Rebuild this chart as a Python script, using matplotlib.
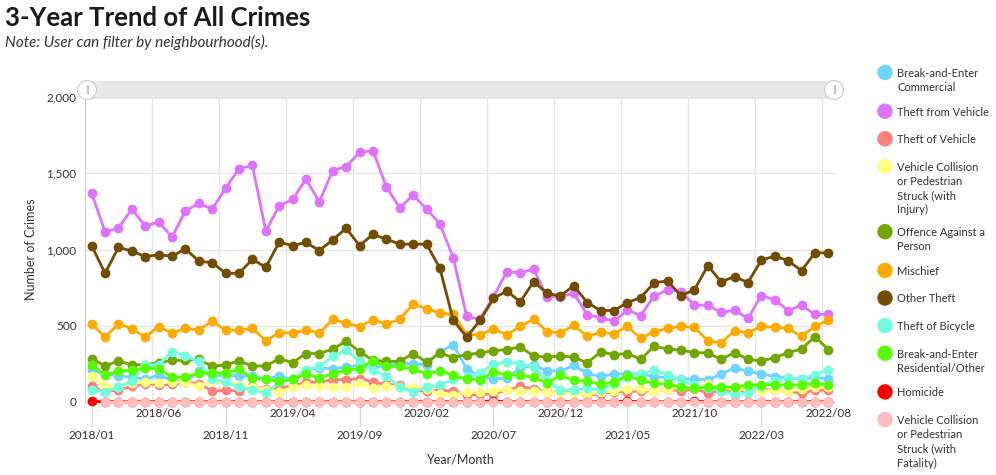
import numpy as np
import matplotlib
matplotlib.use('Agg')
import matplotlib.pyplot as plt
from matplotlib.patches import FancyBboxPatch, Circle

plt.rcParams['font.family'] = ['Lato', 'DejaVu Sans']

# months 2018/01 .. 2022/08
months = [f"{y}/{m:02d}" for y in range(2018, 2023) for m in range(1, 13)][:56]

be_commercial = [211, 185, 172, 163, 148, 176, 142, 131, 203, 174, 174, 172, 170, 152, 170, 146,
                 209, 224, 218, 229, 240, 224, 240, 255, 250, 245, 330, 375, 218, 168, 152, 157,
                 222, 240, 204, 202, 240, 187, 168, 184, 184, 184, 167, 158, 151, 151, 144, 184,
                 224, 202, 184, 167, 158, 151, 162, 150]
theft_from_vehicle = [1368, 1115, 1141, 1264, 1154, 1181, 1082, 1253, 1302, 1266, 1403, 1529, 1551,
                      1121, 1286, 1328, 1460, 1313, 1518, 1544, 1637, 1648, 1412, 1273, 1357, 1266,
                      1168, 945, 561, 543, 691, 854, 848, 870, 691, 691, 713, 572, 554, 528, 604, 567,
                      696, 735, 724, 635, 635, 587, 602, 548, 698, 670, 600, 635, 574, 574]
theft_of_vehicle = [102, 65, 81, 102, 120, 113, 115, 131, 120, 72, 76, 72, 102, 85, 98, 102, 131, 131,
                    146, 146, 154, 131, 115, 109, 76, 72, 76, 72, 44, 50, 54, 76, 102, 87, 65, 65, 65,
                    44, 54, 67, 67, 73, 73, 84, 73, 84, 62, 73, 78, 73, 84, 78, 73, 56, 78, 78]
collision_injury = [168, 102, 98, 124, 131, 124, 131, 131, 102, 135, 131, 109, 98, 81, 65, 98, 109,
                    102, 98, 100, 122, 94, 105, 98, 98, 87, 54, 44, 65, 65, 72, 81, 72, 72, 65, 59, 59,
                    50, 65, 73, 84, 84, 73, 84, 96, 89, 118, 96, 84, 84, 73, 78, 73, 84, 96, 96]
offence_person = [284, 236, 269, 244, 244, 258, 273, 273, 280, 233, 244, 269, 236, 236, 284, 258, 318,
                  318, 347, 400, 330, 273, 267, 267, 318, 262, 322, 291, 311, 322, 336, 344, 362, 300,
                  296, 300, 296, 256, 329, 311, 318, 280, 367, 347, 340, 324, 322, 280, 324, 280, 269,
                  291, 324, 347, 429, 344]
mischief = [513, 425, 513, 481, 425, 495, 451, 484, 471, 530, 471, 471, 484, 403, 453, 453, 471, 453,
            543, 516, 495, 539, 511, 543, 641, 613, 583, 576, 441, 441, 478, 441, 496, 543, 461, 454,
            502, 430, 457, 448, 496, 417, 461, 483, 496, 489, 402, 387, 467, 454, 496, 489, 483, 430,
            496, 535]
other_theft = [1024, 844, 1015, 989, 954, 965, 956, 1004, 923, 914, 844, 844, 936, 883, 1048, 1026,
               1046, 993, 1064, 1139, 1026, 1099, 1068, 1035, 1035, 1035, 877, 535, 426, 535, 680, 728,
               657, 789, 713, 696, 763, 652, 600, 600, 652, 685, 783, 793, 698, 735, 893, 789, 822,
               783, 930, 957, 926, 861, 978, 978]
theft_bicycle = [80, 67, 96, 140, 244, 244, 331, 300, 266, 150, 129, 96, 80, 58, 129, 151, 211, 233,
                 300, 340, 269, 207, 173, 96, 67, 96, 110, 150, 165, 192, 246, 262, 250, 231, 146, 77,
                 80, 90, 78, 118, 167, 184, 207, 180, 144, 110, 89, 73, 47, 62, 107, 140, 158, 151,
                 180, 211]
be_residential = [240, 176, 203, 207, 222, 218, 163, 163, 190, 190, 190, 214, 159, 148, 135, 148, 185,
                  157, 185, 213, 216, 272, 233, 233, 216, 185, 203, 174, 152, 146, 196, 179, 174, 163,
                  124, 174, 142, 135, 115, 133, 173, 144, 122, 118, 96, 89, 96, 100, 96, 111, 113, 113,
                  111, 113, 122, 113]
homicide = [5, 1, 2, 1, 1, 2, 1, 1, 2, 1, 1, 2, 1, 1, 1, 2, 1, 1, 2, 1, 1, 2, 1, 1, 2, 1, 1, 2, 1, 1,
            8, 1, 2, 1, 1, 2, 1, 1, 2, 1, 6, 1, 2, 1, 1, 5, 1, 2, 1, 1, 2, 1, 1, 2, 1, 1]
collision_fatal = [np.nan] + [0] * 55

series = [
    ("Break-and-Enter\nCommercial", be_commercial, "#6dd5ff"),
    ("Theft from Vehicle", theft_from_vehicle, "#df73ff"),
    ("Theft of Vehicle", theft_of_vehicle, "#ff7f7f"),
    ("Vehicle Collision\nor Pedestrian\nStruck (with\nInjury)", collision_injury, "#ffff80"),
    ("Offence Against a\nPerson", offence_person, "#73a500"),
    ("Mischief", mischief, "#ffaa00"),
    ("Other Theft", other_theft, "#734c00"),
    ("Theft of Bicycle", theft_bicycle, "#73ffdf"),
    ("Break-and-Enter\nResidential/Other", be_residential, "#55ff00"),
    ("Homicide", homicide, "#ff0000"),
    ("Vehicle Collision\nor Pedestrian\nStruck (with\nFatality)", collision_fatal, "#ffbebe"),
]

W, H = 996, 475
fig = plt.figure(figsize=(W / 100, H / 100), dpi=100)
ax = fig.add_axes([85 / W, 1 - 402 / H, (835 - 85) / W, (402 - 97) / H])

x = np.arange(len(months))
for i, (name, vals, col) in enumerate(series):
    ax.plot(x, vals, '-o', color=col, lw=2, ms=6, clip_on=False, zorder=3 + i)

ax.set_xlim(-0.5, 55.5)
ax.set_ylim(0, 2000)

# grid
ax.set_yticks([0, 500, 1000, 1500, 2000])
ax.set_yticklabels(['0', '500', '1,000', '1,500', '2,000'])
ax.yaxis.grid(True, color='#e6e6e6', lw=0.9)
for gx in np.arange(4.5, 55, 5):
    ax.axvline(gx, color='#e6e6e6', lw=0.9, zorder=0)
ax.set_axisbelow(True)

# x ticks: two rows
ax.set_xticks(x[::10])
ax.set_xticklabels([months[i] for i in x[::10]])
ax.set_xticks(x[5::10], minor=True)
ax.set_xticklabels([months[i] for i in x[5::10]], minor=True)
ax.tick_params(axis='x', which='major', length=18, width=0.9, color='#d9d9d9',
               pad=2, labelsize=8.5, labelcolor='#333333')
ax.tick_params(axis='x', which='minor', length=0, pad=4, labelsize=8.5, labelcolor='#333333')
ax.tick_params(axis='y', length=0, pad=6, labelsize=8.5, labelcolor='#333333')

for s in ['top', 'right']:
    ax.spines[s].set_visible(False)
ax.spines['left'].set_color('#cccccc')
ax.spines['bottom'].set_color('#cccccc')

ax.set_ylabel('Number of Crimes', fontsize=9, color='#333333', labelpad=7)
ax.set_xlabel('Year/Month', fontsize=9, color='#333333', labelpad=9)

# title and note
fig.text(5 / W, 1 - 18 / H, '3-Year Trend of All Crimes', fontsize=18.5, fontweight='bold',
         color='#1a1a1a', va='center', ha='left')
fig.text(5 / W, 1 - 42 / H, 'Note: User can filter by neighbourhood(s).', fontsize=11,
         style='italic', color='#333333', va='center', ha='left')

# zoom slider at top
inch = fig.dpi_scale_trans
def px(xp, yp):
    return xp / 100, (H - yp) / 100

sx0, sy0 = px(84, 98)
fig.add_artist(FancyBboxPatch((sx0, sy0), (838 - 84) / 100, 16 / 100,
                              boxstyle='round,pad=0,rounding_size=0.05',
                              transform=inch, fc='#e8e8e8', ec='#dddddd', lw=0.8))
for hx in [87, 834]:
    cx, cy = px(hx, 90)
    fig.add_artist(Circle((cx, cy), 0.095, transform=inch, fc='white', ec='#cccccc', lw=0.8))
    fig.text(hx / W, 1 - 90 / H, '||', fontsize=7, color='#999999', ha='center', va='center')

# legend
ly = 75
line_h = 13.3
for name, vals, col in series:
    cx, cy = px(885, ly - 2.5)
    fig.add_artist(Circle((cx, cy), 0.077, transform=inch, fc=col, ec='none'))
    fig.text(897 / W, 1 - (ly - 7) / H, name, fontsize=8, color='#333333',
             ha='left', va='top', linespacing=1.35)
    nlines = name.count('\n') + 1
    ly += max(nlines * line_h, 15.5) + 12.1

fig.savefig('out.png', dpi=100)
